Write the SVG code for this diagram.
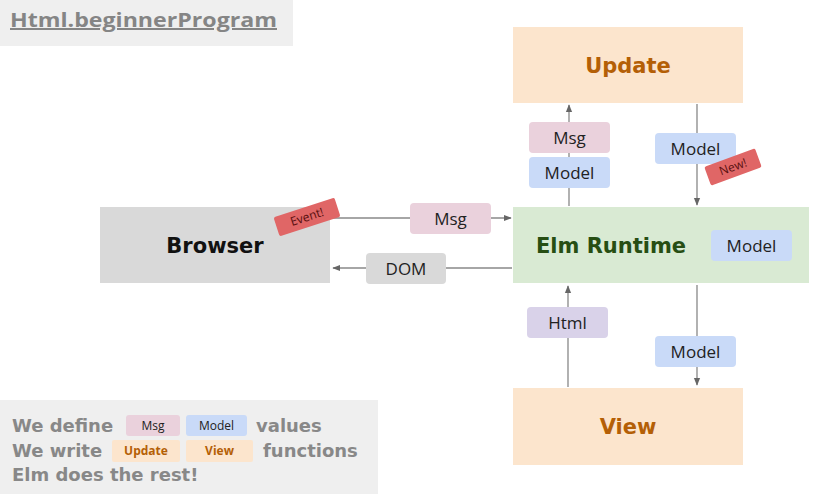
<svg xmlns="http://www.w3.org/2000/svg" width="830" height="494" viewBox="0 0 830 494">
<defs>
<marker id="ah" viewBox="0 0 10 10" refX="9" refY="5" markerWidth="6" markerHeight="6" orient="auto-start-reverse">
<path d="M0,1 L10,5 L0,9 z" fill="#666"/>
</marker>
<style>
text{font-family:"Open Sans","Noto Sans","Liberation Sans",sans-serif}
.big{font-family:"DejaVu Sans","Open Sans",sans-serif;font-size:21px;font-weight:700;text-anchor:middle}
.chip{font-size:17px;text-anchor:middle;fill:#222}
.line{stroke:#888;stroke-width:1.3;fill:none}
.pink{fill:#ead1dc}
.blue{fill:#c9daf8}
.gray{fill:#d9d9d9}
.purple{fill:#d9d2e9}
.orange{fill:#fce5cd}
.tag{fill:#e06666}
.tagt{font-size:12px;fill:#5a1010;text-anchor:middle}
.note{font-family:"DejaVu Sans","Open Sans",sans-serif;font-size:18px;font-weight:700;fill:#888}
</style>
</defs>
<rect width="830" height="494" fill="#ffffff"/>
<g id="title">
<rect x="0" y="0" width="293" height="46" fill="#efefef"/>
<text x="10" y="27" font-family="DejaVu Sans, sans-serif" font-size="20" font-weight="700" fill="#858585" text-decoration="underline" textLength="267" lengthAdjust="spacingAndGlyphs">Html.beginnerProgram</text>
</g>
<g id="connectors">
<line class="line" x1="569" y1="206" x2="569" y2="105" marker-end="url(#ah)"/>
<line class="line" x1="697" y1="104" x2="697" y2="205" marker-end="url(#ah)"/>
<line class="line" x1="330" y1="218" x2="511" y2="218" marker-end="url(#ah)"/>
<line class="line" x1="512" y1="268" x2="333" y2="268" marker-end="url(#ah)"/>
<line class="line" x1="568" y1="387" x2="568" y2="286" marker-end="url(#ah)"/>
<line class="line" x1="697" y1="285" x2="697" y2="385" marker-end="url(#ah)"/>
</g>
<g id="update">
<rect class="orange" x="513" y="27" width="230" height="76"/>
<text class="big" x="628" y="73" fill="#b45f06">Update</text>
</g>
<g id="elm-runtime">
<rect x="513" y="207" width="296" height="76" fill="#d9ead3"/>
<text class="big" x="611" y="253" fill="#274e13">Elm Runtime</text>
<rect class="blue" x="711" y="230" width="81" height="31" rx="4"/>
<text class="chip" x="751.5" y="251.5">Model</text>
</g>
<g id="browser">
<rect class="gray" x="100" y="207" width="230" height="76"/>
<text class="big" x="215" y="253" fill="#111">Browser</text>
</g>
<g id="view">
<rect class="orange" x="513" y="388" width="230" height="77"/>
<text class="big" x="628" y="434" fill="#b45f06">View</text>
</g>
<g id="labels">
<rect class="pink" x="529" y="122" width="81" height="31" rx="4"/>
<text class="chip" x="569.5" y="143.5">Msg</text>
<rect class="blue" x="529" y="157" width="81" height="31" rx="4"/>
<text class="chip" x="569.5" y="178.5">Model</text>
<rect class="blue" x="655" y="133" width="81" height="31" rx="4"/>
<text class="chip" x="695.5" y="154.5">Model</text>
<g transform="translate(733,167) rotate(-20)">
<rect class="tag" x="-27" y="-10" width="54" height="20" rx="2"/>
<text class="tagt" x="0" y="4">New!</text>
</g>
<rect class="pink" x="410" y="203" width="81" height="31" rx="4"/>
<text class="chip" x="450.5" y="224.5">Msg</text>
<rect class="gray" x="366" y="253" width="80" height="31" rx="4"/>
<text class="chip" x="406" y="274.5">DOM</text>
<g transform="translate(307,217) rotate(-18)">
<rect class="tag" x="-32" y="-10" width="64" height="20" rx="2"/>
<text class="tagt" x="0" y="4">Event!</text>
</g>
<rect class="purple" x="527" y="307" width="81" height="31" rx="4"/>
<text class="chip" x="567.5" y="328.5">Html</text>
<rect class="blue" x="655" y="336" width="81" height="31" rx="4"/>
<text class="chip" x="695.5" y="357.5">Model</text>
</g>
<g id="legend">
<rect x="0" y="400" width="378" height="94" fill="#efefef"/>
<text class="note" x="12" y="432">We define</text>
<rect class="pink" x="126" y="415" width="54" height="21" rx="3"/>
<text x="153" y="430" font-size="12" text-anchor="middle" fill="#222">Msg</text>
<rect class="blue" x="186" y="415" width="61" height="21" rx="3"/>
<text x="216.5" y="430" font-size="12" text-anchor="middle" fill="#222">Model</text>
<text class="note" x="256" y="432">values</text>
<text class="note" x="12" y="457">We write</text>
<rect class="orange" x="112" y="440" width="68" height="22" rx="2"/>
<text x="146" y="455" font-size="12" font-weight="700" text-anchor="middle" fill="#b45f06">Update</text>
<rect class="orange" x="186" y="440" width="67" height="22" rx="2"/>
<text x="219.5" y="455" font-size="12" font-weight="700" text-anchor="middle" fill="#b45f06">View</text>
<text class="note" x="263" y="457">functions</text>
<text class="note" x="12" y="481">Elm does the rest!</text>
</g>
</svg>
